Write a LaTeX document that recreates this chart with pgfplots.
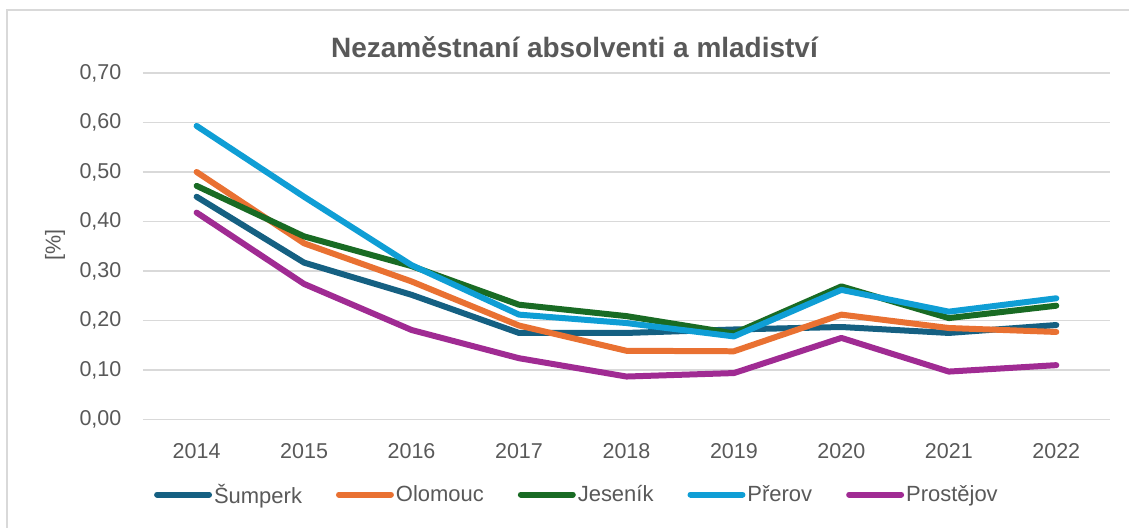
\documentclass[border=0pt]{standalone}
\usepackage{pgfplots}
\pgfplotsset{compat=1.18}
\usepackage{fontspec}
\setmainfont{Liberation Sans}
\definecolor{txt}{HTML}{595959}
\definecolor{gridc}{HTML}{D9D9D9}
\definecolor{cS}{HTML}{156082}
\definecolor{cO}{HTML}{E97132}
\definecolor{cJ}{HTML}{196B24}
\definecolor{cP}{HTML}{0F9ED5}
\definecolor{cR}{HTML}{A02B93}
\begin{document}
\begin{tikzpicture}[x=1pt,y=1pt]
\fill[white] (0,0) rectangle (1130,528);
\draw[gridc, line width=2pt] (6.7,0) -- (6.7,518) -- (1130,518);
\begin{axis}[
  at={(143pt,108pt)}, anchor=south west,
  scale only axis, width=968pt, height=347pt,
  xmin=2013.5, xmax=2022.5, ymin=0, ymax=0.7,
  xtick={2014,2015,2016,2017,2018,2019,2020,2021,2022},
  xticklabels={2014,2015,2016,2017,2018,2019,2020,2021,2022},
  ytick={0,0.1,0.2,0.3,0.4,0.5,0.6,0.7},
  yticklabel style={/pgf/number format/fixed, /pgf/number format/fixed zerofill, /pgf/number format/precision=2, /pgf/number format/use comma, /pgf/number format/assume math mode=true, xshift=-18pt},
  axis line style={draw=none},
  ymajorgrids, grid style={gridc, line width=1.5pt},
  major tick length=0pt,
  tick label style={font=\fontsize{21.5}{25}\selectfont, text=txt},
  xticklabel style={yshift=-20pt},
  clip=false,
  legend columns=-1,
  legend style={draw=none, fill=none, inner sep=0pt, at={(0.0114,-0.216)}, anchor=west,
    font=\fontsize{22}{25}\selectfont, text=txt,
    nodes={inner sep=2pt},
    /tikz/every even column/.append style={column sep=32pt}},
  legend image code/.code={\draw[#1, line width=6pt, line cap=round] (3pt,0) -- (55pt,0);},
  every axis plot/.append style={line width=6pt, line join=round, line cap=round},
]
\addplot[cS] coordinates {(2014,0.450) (2015,0.317) (2016,0.252) (2017,0.175) (2018,0.175) (2019,0.182) (2020,0.187) (2021,0.175) (2022,0.191)};
\addlegendentry{Šumperk}
\addplot[cO] coordinates {(2014,0.500) (2015,0.356) (2016,0.279) (2017,0.190) (2018,0.139) (2019,0.138) (2020,0.212) (2021,0.185) (2022,0.177)};
\addlegendentry{Olomouc}
\addplot[cJ] coordinates {(2014,0.472) (2015,0.370) (2016,0.310) (2017,0.232) (2018,0.209) (2019,0.174) (2020,0.269) (2021,0.205) (2022,0.230)};
\addlegendentry{Jeseník}
\addplot[cP] coordinates {(2014,0.593) (2015,0.450) (2016,0.312) (2017,0.212) (2018,0.195) (2019,0.168) (2020,0.262) (2021,0.218) (2022,0.245)};
\addlegendentry{Přerov}
\addplot[cR] coordinates {(2014,0.418) (2015,0.274) (2016,0.181) (2017,0.124) (2018,0.087) (2019,0.094) (2020,0.165) (2021,0.097) (2022,0.110)};
\addlegendentry{Prostějov}
\end{axis}
\node[font=\bfseries\fontsize{28}{32}\selectfont, text=txt] at (575,481) {Nezaměstnaní absolventi a mladiství};
\node[rotate=90, font=\fontsize{21.5}{25}\selectfont, text=txt] at (55,283) {[\%]};
\end{tikzpicture}
\end{document}
